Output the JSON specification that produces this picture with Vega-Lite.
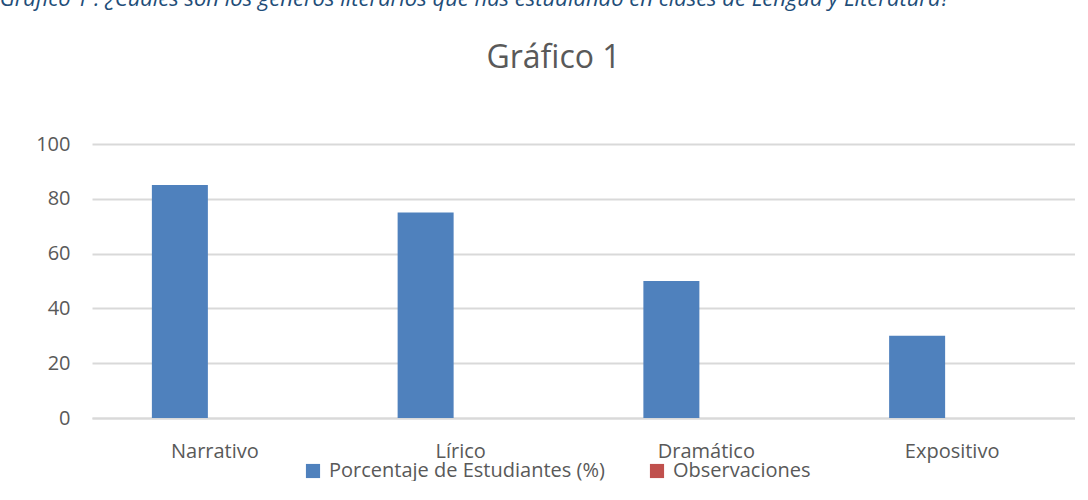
{
  "$schema": "https://vega.github.io/schema/vega-lite/v6.json",
  "background": "white",
  "padding": {"left": -1, "top": -12, "right": 0, "bottom": 0},
  "title": {
    "text": "Gráfico 1 : ¿Cuáles son los géneros literarios que has estudiando en clases de Lengua y Literatura?",
    "anchor": "start",
    "frame": "bounds",
    "dx": -36,
    "font": "Open Sans",
    "fontStyle": "italic",
    "fontWeight": "normal",
    "fontSize": 22,
    "color": "#1F4E79",
    "offset": 31
  },
  "data": {
    "values": [
      {"genero": "Narrativo", "serie": "Porcentaje de Estudiantes (%)", "valor": 85},
      {"genero": "Narrativo", "serie": "Observaciones", "valor": 0},
      {"genero": "Lírico", "serie": "Porcentaje de Estudiantes (%)", "valor": 75},
      {"genero": "Lírico", "serie": "Observaciones", "valor": 0},
      {"genero": "Dramático", "serie": "Porcentaje de Estudiantes (%)", "valor": 50},
      {"genero": "Dramático", "serie": "Observaciones", "valor": 0},
      {"genero": "Expositivo", "serie": "Porcentaje de Estudiantes (%)", "valor": 30},
      {"genero": "Expositivo", "serie": "Observaciones", "valor": 0}
    ]
  },
  "vconcat": [
    {
      "width": 983,
      "height": 274,
      "title": {
        "text": "Gráfico 1",
        "anchor": "middle",
        "frame": "group",
        "dx": -30,
        "font": "Open Sans",
        "fontSize": 32,
        "fontWeight": "normal",
        "color": "#595959",
        "offset": 59
      },
      "mark": {"type": "bar"},
      "encoding": {
        "x": {
          "field": "genero",
          "type": "nominal",
          "sort": ["Narrativo", "Lírico", "Dramático", "Expositivo"],
          "scale": {"paddingInner": 0.4873, "paddingOuter": 0.24365},
          "axis": {
            "title": null,
            "labelAngle": 0,
            "labelFont": "Open Sans",
            "labelFontSize": 20,
            "labelColor": "#595959",
            "labelPadding": 23,
            "ticks": false,
            "domain": true,
            "domainColor": "#D9D9D9",
            "domainWidth": 2
          }
        },
        "xOffset": {
          "field": "serie",
          "type": "nominal",
          "sort": ["Porcentaje de Estudiantes (%)", "Observaciones"],
          "scale": {"paddingInner": 0, "paddingOuter": 0.125, "align": 0}
        },
        "y": {
          "field": "valor",
          "type": "quantitative",
          "scale": {"domain": [0, 100]},
          "axis": {
            "title": null,
            "values": [0, 20, 40, 60, 80, 100],
            "labelFont": "Open Sans",
            "labelFontSize": 20,
            "labelColor": "#595959",
            "labelPadding": 22,
            "ticks": false,
            "domain": false,
            "grid": true,
            "gridColor": "#D9D9D9",
            "gridWidth": 2
          }
        },
        "color": {
          "field": "serie",
          "type": "nominal",
          "sort": ["Porcentaje de Estudiantes (%)", "Observaciones"],
          "scale": {
            "domain": ["Porcentaje de Estudiantes (%)", "Observaciones"],
            "range": ["#4F81BD", "#C0504D"]
          },
          "legend": {
            "title": null,
            "orient": "none",
            "legendX": 211,
            "legendY": 317,
            "direction": "horizontal",
            "symbolType": "square",
            "symbolSize": 200,
            "symbolStrokeWidth": 0,
            "labelFont": "Open Sans",
            "labelFontSize": 20,
            "labelColor": "#595959",
            "labelOffset": 6,
            "columnPadding": 42,
            "labelLimit": 400
          }
        }
      }
    }
  ],
  "config": {
    "view": {"stroke": null},
    "concat": {"spacing": 0}
  }
}
